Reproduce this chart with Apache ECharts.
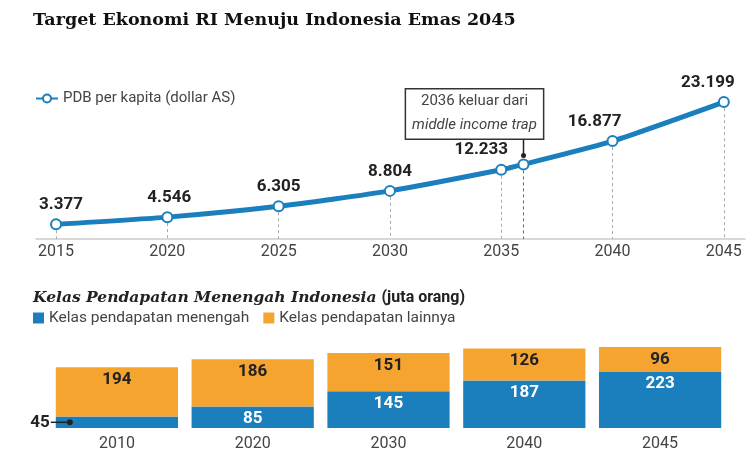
<!DOCTYPE html>
<html>
<head>
<meta charset="utf-8">
<script src="https://cdn.jsdelivr.net/npm/echarts@6/dist/echarts.min.js"></script>
<style>html,body{margin:0;padding:0;background:#fff}#c{width:756px;height:463px}</style>
</head>
<body>
<div id="c"></div>
<script>
// ---- data ----
const years = [2015, 2020, 2025, 2030, 2035, 2036, 2040, 2045];
const gdpPerCapita = [3377, 4546, 6305, 8804, 12233, 13100, 16877, 23199];
const yearTicks = [2015, 2020, 2025, 2030, 2035, 2040, 2045];
const annotationYear = 2036;
const annotationLines = ['2036 keluar dari', 'middle income trap'];
const barYears = ['2010', '2020', '2030', '2040', '2045'];
const middleClass = [45, 85, 145, 187, 223];
const otherClass = [194, 186, 151, 126, 96];
const lineName = 'PDB per kapita (dollar AS)';
const middleName = 'Kelas pendapatan menengah';
const otherName = 'Kelas pendapatan lainnya';

// ---- style ----
const BLUE = '#1a7fbc';
const ORANGE = '#f6a430';
const SANS = "Roboto, 'Noto Sans', sans-serif";
const SERIF = "'DejaVu Serif', serif";
const labelShift = {2015: 5, 2020: 2, 2025: 0, 2030: 0, 2035: -20, 2040: -18, 2045: -16};
const fmt = v => String(v).replace(/\B(?=(\d{3})+(?!\d))/g, '.');
const yMin = 1000;

const lineData = years.map((y, i) => {
  const item = {value: [y, gdpPerCapita[i]]};
  if (y === annotationYear) {
    item.label = {
      show: true, position: 'top', distance: 20, offset: [-49, 0],
      formatter: '{a|' + annotationLines[0] + '}\n{b|' + annotationLines[1] + '}',
      backgroundColor: '#fff', borderColor: '#333', borderWidth: 1.5,
      padding: [0, 6, 1, 6],
      rich: {
        a: {fontFamily: SANS, fontSize: 15, fontWeight: 'normal', color: '#444', lineHeight: 24, align: 'center'},
        b: {fontFamily: SANS, fontSize: 15, fontWeight: 'normal', color: '#444', lineHeight: 24, fontStyle: 'italic', align: 'center'}
      }
    };
  } else {
    item.label = {offset: [labelShift[y] || 0, 0]};
  }
  return item;
});

const dropLines = years.map((y, i) => [
  {coord: [y, gdpPerCapita[i]], lineStyle: y === annotationYear ? {color: BLUE} : undefined},
  {coord: [y, yMin]}
]);

const middleData = middleClass.map((v, i) => {
  if (i === 0) {
    return {value: v, label: {
      position: 'left', distance: 0, offset: [17, 0],
      formatter: '{v|' + v + '}{g|}{l|}{d|}',
      rich: {
        v: {fontFamily: SANS, fontSize: 17, fontWeight: 'bold', color: '#222'},
        g: {width: 1},
        l: {width: 16, height: 1.5, backgroundColor: '#222', verticalAlign: 'middle'},
        d: {width: 6, height: 6, borderRadius: 3, backgroundColor: '#222', verticalAlign: 'middle'}
      }
    }};
  }
  return v;
});

const chart = echarts.init(document.getElementById('c'), null, {renderer: 'canvas'});
const option = {
  animation: false,
  backgroundColor: '#fff',
  title: [
    {text: 'Target Ekonomi RI Menuju Indonesia Emas 2045', left: 28, top: 3,
     textStyle: {fontFamily: SERIF, fontWeight: 'bold', fontSize: 17.5, color: '#111', lineHeight: 24}},
    {text: '{a|Kelas Pendapatan Menengah Indonesia} {b|(juta orang)}', left: 28, top: 284,
     textStyle: {rich: {
       a: {fontFamily: SERIF, fontWeight: 'bold', fontStyle: 'italic', fontSize: 15.5, color: '#222'},
       b: {fontFamily: SANS, fontWeight: 'bold', fontSize: 16, color: '#222'}
     }}}
  ],
  legend: [
    {data: [lineName], left: 30, top: 86, itemWidth: 22, itemHeight: 10,
     textStyle: {fontFamily: SANS, fontSize: 15, color: '#444'}},
    {data: [middleName, otherName], left: 28, top: 305, icon: 'rect', itemWidth: 11, itemHeight: 11,
     itemGap: 14, textStyle: {fontFamily: SANS, fontSize: 15.5, color: '#444'}}
  ],
  grid: [
    {left: 36, right: 11, top: 91, bottom: 224},
    {left: 49, right: 28, top: 343, bottom: 35}
  ],
  xAxis: [
    {type: 'value', gridIndex: 0, min: 2014.1, max: 2045.95,
     axisLine: {show: true, lineStyle: {color: '#ccc', width: 1.5}},
     axisTick: {show: false}, splitLine: {show: false},
     axisLabel: {customValues: yearTicks, formatter: v => String(v), margin: 5,
       fontFamily: SANS, fontSize: 16, color: '#444'}},
    {type: 'category', gridIndex: 1, data: barYears,
     axisLine: {show: false}, axisTick: {show: false},
     axisLabel: {margin: 8, fontFamily: SANS, fontSize: 16, color: '#444'}}
  ],
  yAxis: [
    {type: 'value', gridIndex: 0, min: yMin, max: 25000, show: false},
    {type: 'value', gridIndex: 1, min: 0, max: 335, show: false}
  ],
  series: [
    {name: lineName, type: 'line', xAxisIndex: 0, yAxisIndex: 0, data: lineData,
     smooth: 0.2, symbol: 'emptyCircle', symbolSize: 10, z: 5,
     lineStyle: {color: BLUE, width: 5},
     itemStyle: {color: BLUE, borderWidth: 2},
     label: {show: true, position: 'top', distance: 5, formatter: p => fmt(p.value[1]),
       fontFamily: SANS, fontSize: 17, fontWeight: 'bold', color: '#222'},
     markLine: {silent: true, symbol: ['none', 'none'], animation: false, z: 1,
       label: {show: false},
       lineStyle: {color: '#aaa', width: 1, type: [3, 3]},
       data: dropLines}},
    {name: middleName, type: 'bar', xAxisIndex: 1, yAxisIndex: 1, stack: 'k',
     barCategoryGap: '10%', data: middleData, itemStyle: {color: BLUE},
     label: {show: true, position: 'insideTop', distance: 4,
       fontFamily: SANS, fontSize: 17, fontWeight: 'bold', color: '#fff'}},
    {name: otherName, type: 'bar', xAxisIndex: 1, yAxisIndex: 1, stack: 'k',
     barCategoryGap: '10%', data: otherClass, itemStyle: {color: ORANGE},
     label: {show: true, position: 'insideTop', distance: 4,
       fontFamily: SANS, fontSize: 17, fontWeight: 'bold', color: '#222'}}
  ]
};
chart.setOption(option);

// connector from annotation box to the 2036 point
const idx = years.indexOf(annotationYear);
const p = chart.convertToPixel({gridIndex: 0}, [annotationYear, gdpPerCapita[idx]]);
chart.setOption({
  graphic: [
    {type: 'line', silent: true, z: 10, shape: {x1: p[0], y1: p[1] - 25, x2: p[0], y2: p[1] - 9},
     style: {stroke: '#222', lineWidth: 1.5}},
    {type: 'circle', silent: true, z: 10, shape: {cx: p[0], cy: p[1] - 9, r: 2.5},
     style: {fill: '#222'}}
  ]
});
</script>
</body>
</html>
